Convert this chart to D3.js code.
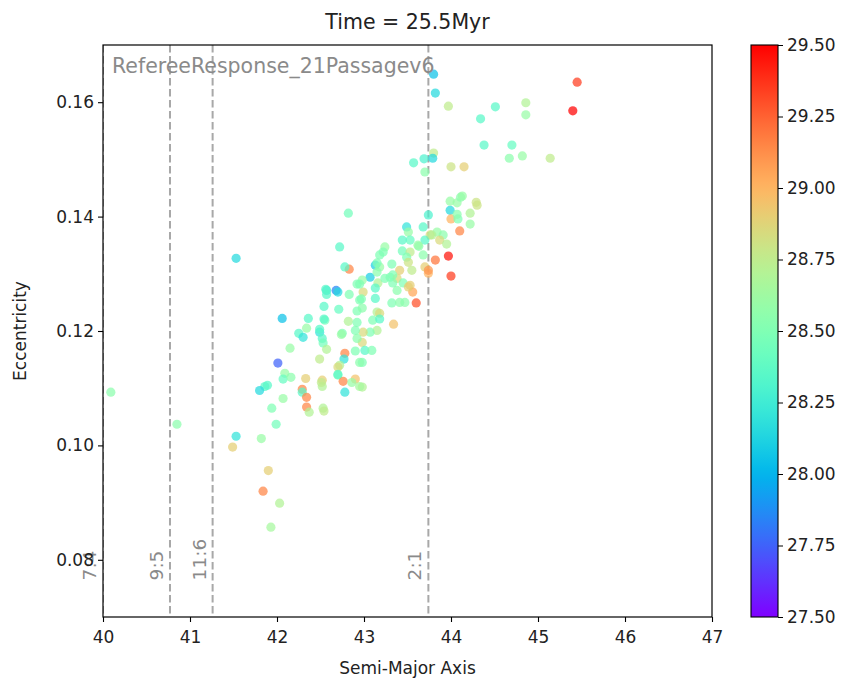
<!DOCTYPE html>
<html>
<head>
<meta charset="utf-8">
<script src="https://cdn.jsdelivr.net/npm/d3@7"></script>
<style>
  body { margin: 0; background: #fff; }
  text { font-family: "DejaVu Sans", sans-serif; fill: #222; }
</style>
</head>
<body>
<div id="chart"></div>
<script>
// semi-major axis, eccentricity and formation time (colour) of each particle
let semiMajor = [
  43.80, 43.82, 43.97, 44.51, 44.34, 44.86, 44.86, 45.45, 45.40, 44.38,
  44.70, 44.67, 44.82, 45.14, 43.80, 43.79, 43.69, 43.57, 43.70, 44.00,
  44.15, 42.82, 43.99, 44.07, 44.11, 44.13, 44.29, 44.30, 44.22, 43.99,
  44.00, 44.08, 44.07, 44.22, 44.10, 43.74, 43.49, 43.51, 43.68, 43.84,
  43.91, 43.76, 43.87, 43.70, 43.53, 43.95, 43.63, 43.24, 43.22, 43.44,
  43.53, 43.49, 43.68, 43.97, 43.82, 43.13, 43.32, 43.18, 43.41, 43.55,
  43.70, 43.74, 43.07, 42.98, 43.30, 43.38, 44.00, 43.45, 43.53, 43.16,
  42.99, 43.13, 43.13, 43.33, 43.38, 43.56, 43.60, 43.32, 43.41, 43.47,
  43.15, 43.18, 43.10, 43.18, 43.34, 43.15, 43.07, 42.99, 42.98, 43.01,
  43.09, 42.98, 42.98, 42.57, 42.68, 42.70, 42.57, 42.83, 42.95, 42.54,
  42.71, 42.92, 42.95, 42.06, 42.36, 42.55, 42.82, 42.92, 42.34, 42.25,
  42.30, 42.49, 42.52, 42.53, 42.75, 42.90, 42.92, 42.57, 42.15, 42.90,
  42.78, 42.77, 42.49, 42.95, 42.01, 42.72, 42.70, 42.70, 42.09, 42.07,
  42.16, 42.33, 42.52, 42.76, 42.90, 42.86, 42.52, 41.86, 42.29, 42.29,
  41.80, 42.95, 42.78, 42.34, 42.07, 41.94, 42.34, 42.53, 42.37, 42.54,
  41.99, 41.53, 41.49, 41.82, 41.90, 41.84, 42.03, 41.93, 40.09, 40.85,
  41.53, 42.72, 42.83, 42.78, 41.89, 42.51, 42.70, 42.49, 42.54, 42.74,
  42.56, 42.92, 42.97, 42.98, 43.15, 43.18, 43.15, 43.33, 43.51, 43.51,
  43.44, 43.62, 43.74, 43.78, 43.24
]
let eccentricity = [
  0.1649, 0.1616, 0.1593, 0.1592, 0.1571, 0.1599, 0.1578, 0.1635, 0.1585, 0.1525,
  0.1525, 0.1502, 0.1506, 0.1502, 0.1511, 0.1502, 0.1501, 0.1494, 0.1478, 0.1487,
  0.1487, 0.1406, 0.1427, 0.1424, 0.1434, 0.1436, 0.1425, 0.1420, 0.1406, 0.1411,
  0.1396, 0.1396, 0.1404, 0.1387, 0.1375, 0.1403, 0.1382, 0.1373, 0.1382, 0.1373,
  0.1368, 0.1368, 0.1359, 0.1359, 0.1359, 0.1352, 0.1348, 0.1347, 0.1338, 0.1340,
  0.1338, 0.1329, 0.1333, 0.1331, 0.1324, 0.1315, 0.1317, 0.1312, 0.1306, 0.1306,
  0.1312, 0.1301, 0.1294, 0.1289, 0.1294, 0.1292, 0.1296, 0.1284, 0.1280, 0.1284,
  0.1268, 0.1275, 0.1257, 0.1284, 0.1271, 0.1268, 0.1249, 0.1249, 0.1250, 0.1250,
  0.1233, 0.1231, 0.1219, 0.1221, 0.1212, 0.1201, 0.1198, 0.1198, 0.1180, 0.1166,
  0.1166, 0.1145, 0.1102, 0.1271, 0.1271, 0.1268, 0.1264, 0.1264, 0.1282, 0.1243,
  0.1238, 0.1235, 0.1254, 0.1222, 0.1222, 0.1219, 0.1217, 0.1215, 0.1205, 0.1196,
  0.1189, 0.1198, 0.1187, 0.1179, 0.1196, 0.1201, 0.1187, 0.1168, 0.1170, 0.1165,
  0.1161, 0.1151, 0.1151, 0.1145, 0.1144, 0.1140, 0.1137, 0.1123, 0.1126, 0.1116,
  0.1119, 0.1117, 0.1114, 0.1112, 0.1116, 0.1110, 0.1103, 0.1103, 0.1098, 0.1093,
  0.1096, 0.1103, 0.1093, 0.1084, 0.1082, 0.1065, 0.1067, 0.1065, 0.1058, 0.1060,
  0.1037, 0.1016, 0.0997, 0.1012, 0.0956, 0.0920, 0.0899, 0.0857, 0.1093, 0.1037,
  0.1327, 0.1347, 0.1308, 0.1312, 0.1105, 0.1110, 0.1124, 0.1203, 0.1221, 0.1194,
  0.1273, 0.1282, 0.1256, 0.1240, 0.1319, 0.1333, 0.1303, 0.1298, 0.1277, 0.1320,
  0.1359, 0.1350, 0.1306, 0.1368, 0.1292
]
let formTime = [
  28.05, 28.15, 28.75, 28.35, 28.35, 28.70, 28.60, 29.35, 29.50, 28.35,
  28.40, 28.55, 28.60, 28.75, 28.75, 28.15, 28.30, 28.35, 28.55, 28.80,
  28.90, 28.45, 28.60, 28.60, 28.55, 28.60, 28.80, 28.80, 28.70, 28.15,
  29.00, 28.50, 28.55, 28.60, 29.15, 28.30, 28.20, 28.60, 28.35, 28.60,
  28.55, 28.85, 28.85, 28.35, 28.40, 28.70, 28.55, 28.60, 28.50, 28.45,
  28.75, 28.50, 28.55, 29.45, 29.20, 28.10, 28.50, 28.60, 28.90, 28.75,
  28.90, 29.00, 28.10, 28.60, 28.50, 28.85, 29.35, 28.50, 28.90, 28.70,
  28.85, 28.35, 28.35, 28.50, 28.55, 29.05, 29.30, 28.50, 28.55, 28.55,
  28.70, 28.85, 28.50, 28.35, 28.95, 28.70, 28.50, 28.85, 28.85, 28.35,
  28.50, 28.50, 28.70, 28.20, 27.85, 28.15, 28.35, 28.50, 28.50, 28.35,
  28.40, 28.50, 28.50, 28.05, 28.35, 28.45, 28.70, 28.50, 28.60, 28.35,
  28.20, 28.20, 28.35, 28.45, 28.50, 28.50, 28.55, 28.70, 28.60, 28.50,
  29.15, 28.20, 28.75, 28.55, 27.75, 28.70, 28.85, 28.50, 28.60, 28.40,
  28.55, 28.90, 28.90, 29.15, 28.95, 28.60, 28.70, 28.35, 29.15, 28.35,
  28.15, 28.65, 28.20, 29.15, 28.60, 28.50, 29.15, 28.70, 28.70, 28.75,
  28.45, 28.20, 28.90, 28.60, 28.90, 29.15, 28.70, 28.65, 28.55, 28.55,
  28.15, 28.35, 29.15, 28.35, 28.35, 28.75, 28.35, 28.35, 28.35, 28.60,
  28.35, 28.50, 28.50, 28.55, 28.50, 28.50, 28.55, 28.50, 28.90, 28.80,
  28.35, 28.60, 29.10, 28.70, 28.50
]

let resLabels = ['7:4', '9:5', '11:6', '2:1']
let resA = [40.0, 40.77, 41.26, 43.74]

let xTicks = [40, 41, 42, 43, 44, 45, 46, 47]
let yTicks = [0.08, 0.10, 0.12, 0.14, 0.16]
let cTicks = [27.5, 27.75, 28.0, 28.25, 28.5, 28.75, 29.0, 29.25, 29.5]

let margin = {left: 103, top: 45}
let width = 609
let height = 572

// matplotlib "rainbow" colormap
const rainbow = function(t) {
  let r = Math.min(1, Math.abs(2 * t - 0.5))
  let g = Math.sin(Math.PI * t)
  let b = Math.cos(Math.PI * t / 2)
  return d3.rgb(r * 255, g * 255, b * 255).toString()
}

let svg = d3.select('#chart').append('svg')
  .attr('width', 856)
  .attr('height', 683)

let g = svg.append('g')
  .attr('transform', 'translate(' + margin.left + ',' + margin.top + ')')

let x = d3.scaleLinear().domain([40, 47]).range([0, width])
let y = d3.scaleLinear().domain([0.07, 0.17]).range([height, 0])
let cNorm = d3.scaleLinear().domain([27.5, 29.5]).range([0, 1]).clamp(true)

svg.append('defs').append('clipPath').attr('id', 'clip')
  .append('rect').attr('width', width).attr('height', height)

// resonance lines
g.append('g').attr('clip-path', 'url(#clip)')
  .selectAll('line').data(resA).enter().append('line')
  .attr('x1', d => x(d)).attr('x2', d => x(d))
  .attr('y1', 0).attr('y2', height)
  .attr('stroke', '#a8a8a8')
  .attr('stroke-width', 2)
  .attr('stroke-dasharray', '7.5,3.5')

g.selectAll('.reslabel').data(resLabels).enter().append('text')
  .attr('class', 'reslabel')
  .attr('transform', (d, i) => 'translate(' + (x(resA[i]) - 7) + ',' + y(0.0764) + ') rotate(-90)')
  .attr('font-size', '18.5px')
  .style('fill', '#8a8a8a')
  .text(d => d)

// points
let pts = semiMajor.map((a, i) => ({a: a, e: eccentricity[i], t: formTime[i]}))
g.append('g').attr('clip-path', 'url(#clip)')
  .selectAll('circle').data(pts).enter().append('circle')
  .attr('cx', d => x(d.a))
  .attr('cy', d => y(d.e))
  .attr('r', 4.6)
  .attr('fill', d => rainbow(cNorm(d.t)))
  .attr('fill-opacity', 0.72)

g.append('text')
  .attr('x', 9)
  .attr('y', 28)
  .attr('font-size', '20.5px')
  .style('fill', '#8a8a8a')
  .text('RefereeResponse_21Passagev6')

// frame
g.append('rect')
  .attr('width', width).attr('height', height)
  .attr('fill', 'none').attr('stroke', '#000').attr('stroke-width', 1.2)

let xAxis = g.append('g').attr('transform', 'translate(0,' + height + ')')
  .call(d3.axisBottom(x).tickValues(xTicks).tickSize(5).tickSizeOuter(0).tickFormat(d3.format('d')))
let yAxis = g.append('g')
  .call(d3.axisLeft(y).tickValues(yTicks).tickSize(5).tickSizeOuter(0).tickFormat(d3.format('.2f')))

;[xAxis, yAxis].forEach(ax => {
  ax.select('.domain').remove()
  ax.selectAll('text').attr('font-size', '17px').attr('font-family', '"DejaVu Sans", sans-serif').style('fill', '#222')
  ax.selectAll('line').attr('stroke', '#000').attr('stroke-width', 1.1)
})
xAxis.selectAll('text').attr('dy', '1.05em')
yAxis.selectAll('text').attr('x', -9)

g.append('text')
  .attr('x', width / 2).attr('y', height + 57)
  .attr('text-anchor', 'middle').attr('font-size', '17px')
  .text('Semi-Major Axis')

g.append('text')
  .attr('transform', 'translate(-77,' + (height / 2) + ') rotate(-90)')
  .attr('text-anchor', 'middle').attr('font-size', '17px')
  .text('Eccentricity')

g.append('text')
  .attr('x', width / 2).attr('y', -16)
  .attr('text-anchor', 'middle').attr('font-size', '20.5px')
  .text('Time = 25.5Myr')

// colorbar
let cbX = 751, cbW = 27
let cy = d3.scaleLinear().domain([27.5, 29.5]).range([margin.top + height, margin.top])
let grad = svg.select('defs').append('linearGradient')
  .attr('id', 'cbgrad').attr('x1', 0).attr('y1', 1).attr('x2', 0).attr('y2', 0)
grad.selectAll('stop').data(d3.range(0, 1.0001, 0.02)).enter().append('stop')
  .attr('offset', d => d).attr('stop-color', d => rainbow(d))

svg.append('rect')
  .attr('x', cbX).attr('y', margin.top).attr('width', cbW).attr('height', height)
  .attr('fill', 'url(#cbgrad)').attr('stroke', '#000').attr('stroke-width', 1.1)

let cAxis = svg.append('g').attr('transform', 'translate(' + (cbX + cbW) + ',0)')
  .call(d3.axisRight(cy).tickValues(cTicks).tickSize(5).tickSizeOuter(0).tickFormat(d3.format('.2f')))
cAxis.select('.domain').remove()
cAxis.selectAll('text').attr('font-size', '17px').attr('font-family', '"DejaVu Sans", sans-serif').style('fill', '#222').attr('x', 9)
cAxis.selectAll('line').attr('stroke', '#000')
</script>
</body>
</html>
